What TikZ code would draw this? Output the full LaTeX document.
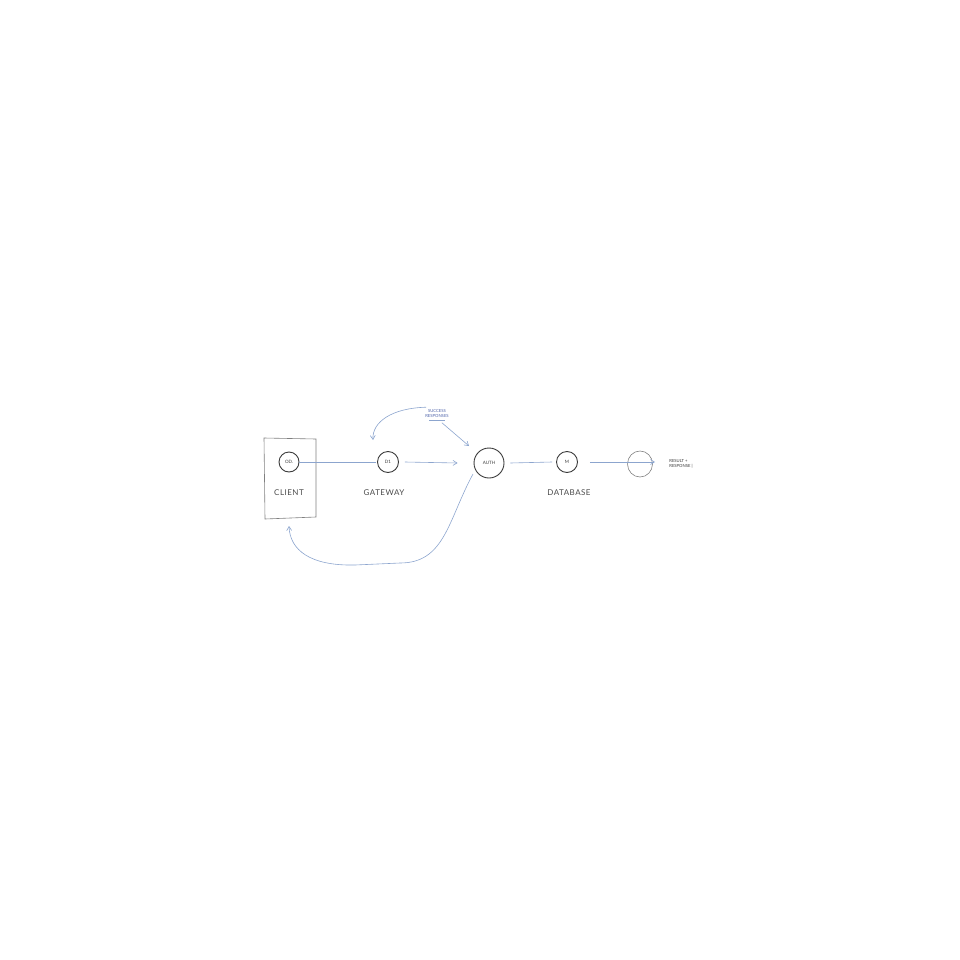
\documentclass[tikz,border=0pt]{standalone}
\usepackage{fontspec}
\setmainfont{Lato}
\usetikzlibrary{arrows.meta,shapes.geometric}
\definecolor{inkblue}{HTML}{8CA5CE}
\definecolor{inkdark}{HTML}{3A3A3A}
\definecolor{inkgray}{HTML}{808080}
\definecolor{txtblue}{HTML}{5064AA}
\definecolor{lbltext}{HTML}{4A4A4A}
\tikzset{
  comp/.style={circle, draw=inkdark, line width=0.9pt, inner sep=0pt, font=\fontsize{4.5}{5}\selectfont, text=inkdark},
  lbl/.style={font=\fontsize{8}{10}\selectfont\addfontfeature{LetterSpace=6}, text=lbltext},
  flow/.style={draw=inkblue, line width=0.6pt},
  flowarrow/.style={flow, -{Straight Barb[length=4pt,width=5pt]}},
  note/.style={font=\fontsize{4.2}{4.8}\selectfont, text=txtblue, align=center, inner sep=1pt},
}
\begin{document}
\begin{tikzpicture}[x=1pt,y=-1pt]
\useasboundingbox (0,0) rectangle (960,960);
% client box
\draw[draw=inkgray, line width=0.6pt] (264,438) -- (316,439) -- (316,517) -- (265,519) -- cycle;
\node[comp, minimum size=20pt] (clc) at (289,462) {OD.};
\node[lbl] (cll) at (289,493) {CLIENT};
\coordinate (clbot) at (289,526);
% gateway
\node[comp, minimum size=21pt] (gw) at (388,462) {D1};
\node[lbl] (gwl) at (384,493) {GATEWAY};
% auth
\node[comp, minimum size=30pt] (au) at (489,463) {AUTH};
% database
\node[comp, minimum size=21pt] (db) at (567,462) {M};
\node[lbl] (dbl) at (569,493) {DATABASE};
% end ring
\node[draw=inkgray, line width=0.6pt, ellipse, minimum width=25pt, minimum height=26pt, inner sep=0pt] (ring) at (640,464) {};
\coordinate (ringtip) at (655,462);
% notes
\node[note] (topnote) at (437,415) {SUCCESS\\RESPONSES\\[-1.5pt]{\color{inkblue}\rule{16pt}{0.3pt}}};
\node[note, text=inkdark, align=left] (rnote) at (681,464) {RESULT +\\RESPONSE \textbar};
% connectors
\draw[flow] (clc.east) -- ([xshift=-1pt]gw.west);
\draw[flowarrow] (gw.east) ++(6,0) -- ([xshift=-16pt]au.west);
\draw[flow] (au.east) ++(6,0) -- ([xshift=-4pt]db.west);
\draw[flowarrow] (db.east) ++(12,0) -- (ringtip);
\draw[flowarrow] (topnote.north west) ++(2,-1) .. controls (392,408) and (372,422) .. (373,440);
\draw[flowarrow] (topnote.south east) ++(-8,1) -- (469,446);
\draw[flowarrow] (473,474) .. controls (448,520) and (445,563) .. (400,563)
  -- (355,565) .. controls (310,566) and (290,550) .. (clbot);
\end{tikzpicture}
\end{document}
